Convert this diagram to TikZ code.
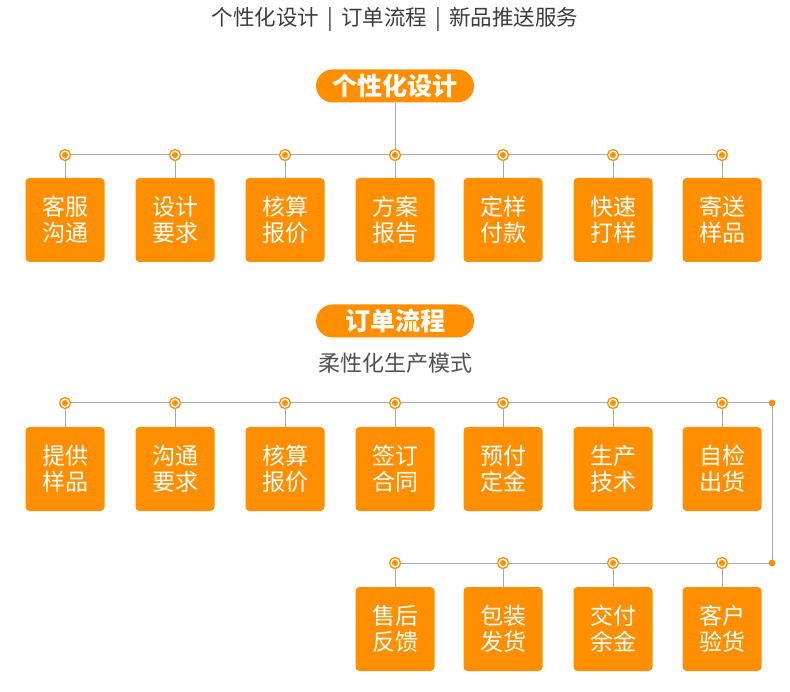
\documentclass[tikz,border=0pt]{standalone}
\usepackage{fontspec}
\usepackage{xcolor}
\usepackage{tikz}
\newfontfamily\cjk{Noto Sans CJK SC}
\definecolor{brandorange}{RGB}{255,143,0}
\definecolor{linegray}{RGB}{170,170,170}
\definecolor{titlegray}{RGB}{60,60,60}

\tikzset{
  card/.style={fill=brandorange, rounded corners=4pt, minimum width=79pt,
    minimum height=84pt, inner sep=0pt, text=white, align=center,
    font=\cjk\fontsize{23}{26}\selectfont},
  pill/.style={fill=brandorange, rounded corners=16.5pt, minimum width=158pt,
    minimum height=33pt, inner sep=0pt, text=white,
    font=\cjk\bfseries\fontsize{25}{28}\selectfont},
  ring/.style={circle, draw=brandorange, line width=1.3pt, fill=white,
    minimum size=11pt, inner sep=0pt,
    path picture={\fill[brandorange] (path picture bounding box.center) circle (3pt);}},
  enddot/.style={circle, fill=brandorange, minimum size=6.5pt, inner sep=0pt},
  link/.style={draw=linegray, line width=1pt}
}

\begin{document}
\begin{tikzpicture}[x=1pt, y=-1pt]
    %% canvas 790 x 692, y grows downwards
    %% card centres x: 65, 175, 285, 395, 503, 613, 722
    \useasboundingbox (0,0) rectangle (790,692);

    % ---- HEADLINE ----
    \node[font=\cjk\fontsize{21.5}{24}\selectfont, text=titlegray] (title) at (395,19)
      {个性化设计\hspace{8pt}|\hspace{8pt}订单流程\hspace{8pt}|\hspace{8pt}新品推送服务};

    % ---- BLOCK 1: design ----
    \node[pill] (design) at (395,86) {个性化设计};
    \foreach \x/\t [count=\i] in {65/客服\\沟通, 175/设计\\要求, 285/核算\\报价,
        395/方案\\报告, 503/定样\\付款, 613/快速\\打样, 722/寄送\\样品} {
      \node[card] (da\i) at (\x,220) {\t};
      \node[ring] (dr\i) at (\x,155) {};
      \draw[link] (dr\i) -- (da\i);
    }
    \draw[link] (design) -- (dr4);
    \foreach \i [evaluate=\i as \j using int(\i+1)] in {1,...,6} {
      \draw[link] (dr\i) -- (dr\j);
    }

    % ---- BLOCK 2: orders ----
    \node[pill] (order) at (395,321) {订单流程};
    \node[font=\cjk\fontsize{22}{24}\selectfont, text=titlegray!90] (mode) at (395,363)
      {柔性化生产模式};
    \foreach \x/\t [count=\i] in {65/提供\\样品, 175/沟通\\要求, 285/核算\\报价,
        395/签订\\合同, 503/预付\\定金, 613/生产\\技术, 722/自检\\出货} {
      \node[card] (oa\i) at (\x,469) {\t};
      \node[ring] (or\i) at (\x,403) {};
      \draw[link] (or\i) -- (oa\i);
    }
    \foreach \i [evaluate=\i as \j using int(\i+1)] in {1,...,6} {
      \draw[link] (or\i) -- (or\j);
    }
    % turn to the second row
    \node[enddot] (turnA) at (772,403) {};
    \node[enddot] (turnB) at (772,563) {};
    \draw[link] (or7) -- (turnA.center) -- (turnB.center);

    \foreach \x/\t [count=\i] in {395/售后\\反馈, 503/包装\\发货, 613/交付\\余金, 722/客户\\验货} {
      \node[card] (sa\i) at (\x,629) {\t};
      \node[ring] (sr\i) at (\x,563) {};
      \draw[link] (sr\i) -- (sa\i);
    }
    \foreach \i [evaluate=\i as \j using int(\i+1)] in {1,...,3} {
      \draw[link] (sr\i) -- (sr\j);
    }
    \draw[link] (sr4) -- (turnB.center);
    \node[enddot] at (turnA) {};
    \node[enddot] at (turnB) {};
\end{tikzpicture}
\end{document}
